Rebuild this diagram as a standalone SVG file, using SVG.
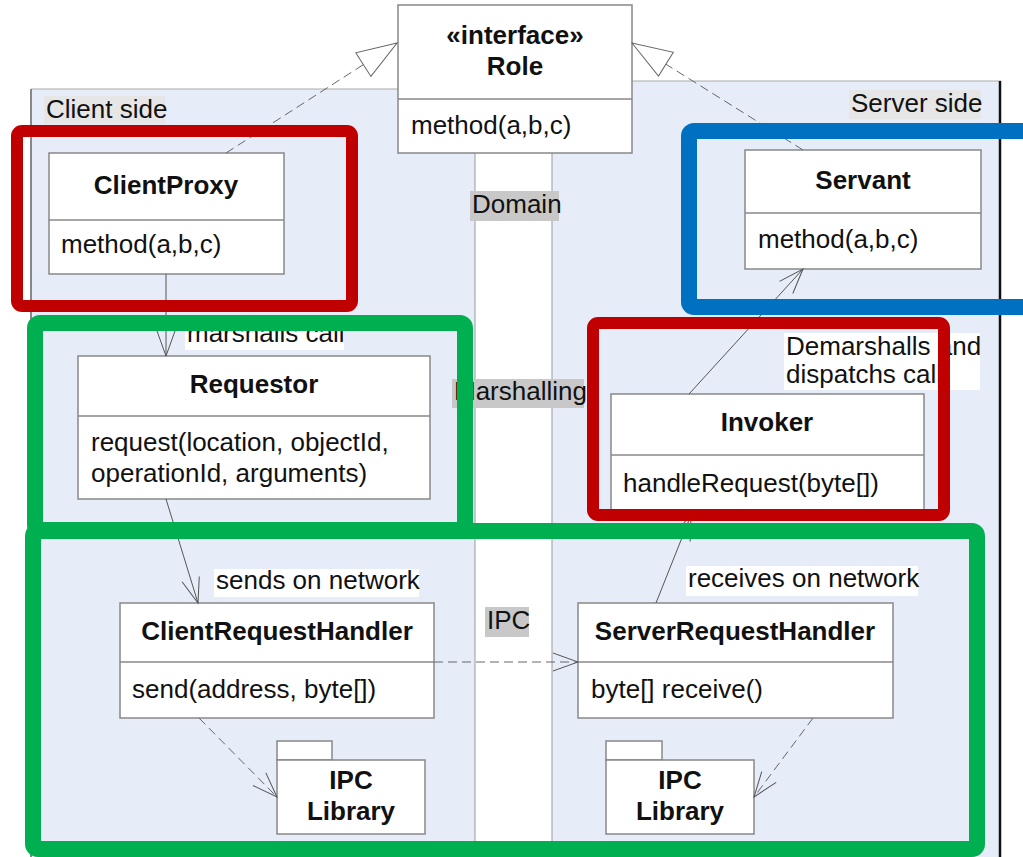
<svg xmlns="http://www.w3.org/2000/svg" width="1023" height="857" viewBox="0 0 1023 857">
  <style>
    text { font-family: "Liberation Sans", Arial, sans-serif; font-size: 26px; fill: #111; }
    .title { font-weight: bold; text-anchor: middle; }
    .box { fill: #fff; stroke: #888; stroke-width: 1.5; }
    .sep { stroke: #888; stroke-width: 1.5; }
    .panel { fill: #e6edf8; }
    .zone { fill: #c8c8c8; }
    .side { fill: #e6e6e6; }
    .lbl { fill: #fff; }
    .solid { fill: none; stroke: #555; stroke-width: 1; }
    .dash { fill: none; stroke: #666; stroke-width: 1; stroke-dasharray: 9 5; }
    .hl { fill: none; rx: 5; }
    .red { stroke: #c00000; stroke-width: 12; }
    .blue { stroke: #0070c0; stroke-width: 16; }
    .green { stroke: #00b050; stroke-width: 16; }
  </style>
  <defs>
    <marker id="open" markerUnits="userSpaceOnUse" viewBox="-30 -15 32 30" markerWidth="32" markerHeight="30" refX="0" refY="0" orient="auto">
      <path d="M-25,-9 L0,0 L-25,9" fill="none" stroke="#555" stroke-width="1"/>
    </marker>
    <marker id="realize" markerUnits="userSpaceOnUse" viewBox="-44 -18 46 36" markerWidth="46" markerHeight="36" refX="0" refY="0" orient="auto">
      <path d="M0,0 L-40,-14 L-40,14 Z" fill="#fff" stroke="#666" stroke-width="1"/>
    </marker>
  </defs>

  <!-- side panels and the layer strip -->
  <g id="panels">
    <rect class="panel" x="31" y="89" width="444" height="780"/>
    <rect class="panel" x="552" y="81" width="449" height="790"/>
    <rect x="475" y="153" width="77" height="710" fill="#fff"/>
    <line x1="31" y1="89" x2="398" y2="89" stroke="#aaa" stroke-width="1"/>
    <line x1="31" y1="89" x2="31" y2="857" stroke="#888" stroke-width="2"/>
    <line x1="632" y1="81" x2="1001" y2="81" stroke="#aaa" stroke-width="1"/>
    <line x1="1000" y1="81" x2="1000" y2="857" stroke="#111" stroke-width="2.5"/>
    <line x1="475" y1="153" x2="475" y2="857" stroke="#999" stroke-width="1"/>
    <line x1="552" y1="153" x2="552" y2="857" stroke="#999" stroke-width="1"/>
    <rect class="side" x="44" y="96" width="121" height="28"/>
    <text x="46" y="118">Client side</text>
    <rect class="side" x="849" y="90" width="132" height="29"/>
    <text x="851" y="112">Server side</text>
    <rect class="zone" x="470" y="191" width="89" height="30"/>
    <text x="472" y="213">Domain</text>
    <rect class="zone" x="452" y="379" width="132" height="29"/>
    <text x="454" y="400">Marshalling</text>
    <rect class="zone" x="485" y="607" width="44" height="30"/>
    <text x="487" y="629">IPC</text>
  </g>

  <!-- classes -->
  <g id="role">
    <rect class="box" x="398" y="5" width="234" height="148"/>
    <line class="sep" x1="398" y1="99" x2="632" y2="99"/>
    <text class="title" x="515" y="44">«interface»</text>
    <text class="title" x="515" y="75">Role</text>
    <text x="411" y="134">method(a,b,c)</text>
  </g>
  <g id="clientproxy">
    <rect class="box" x="49" y="153" width="235" height="121"/>
    <line class="sep" x1="49" y1="220" x2="284" y2="220"/>
    <text class="title" x="166" y="194">ClientProxy</text>
    <text x="61" y="253">method(a,b,c)</text>
  </g>
  <g id="servant">
    <rect class="box" x="745" y="150" width="236" height="119"/>
    <line class="sep" x1="745" y1="213" x2="981" y2="213"/>
    <text class="title" x="863" y="189">Servant</text>
    <text x="758" y="248">method(a,b,c)</text>
  </g>
  <g id="requestor">
    <rect class="box" x="78" y="356" width="352" height="143"/>
    <line class="sep" x1="78" y1="416" x2="430" y2="416"/>
    <text class="title" x="254" y="393">Requestor</text>
    <text x="91" y="451">request(location, objectId,</text>
    <text x="91" y="482">operationId, arguments)</text>
  </g>
  <g id="invoker">
    <rect class="box" x="611" y="394" width="313" height="121"/>
    <line class="sep" x1="611" y1="455" x2="924" y2="455"/>
    <text class="title" x="767" y="431">Invoker</text>
    <text x="623" y="492">handleRequest(byte[])</text>
  </g>
  <g id="clientrequesthandler">
    <rect class="box" x="120" y="603" width="314" height="115"/>
    <line class="sep" x1="120" y1="662" x2="434" y2="662"/>
    <text class="title" x="277" y="640">ClientRequestHandler</text>
    <text x="132" y="698">send(address, byte[])</text>
  </g>
  <g id="serverrequesthandler">
    <rect class="box" x="578" y="603" width="315" height="115"/>
    <line class="sep" x1="578" y1="662" x2="893" y2="662"/>
    <text class="title" x="735" y="640">ServerRequestHandler</text>
    <text x="591" y="698">byte[] receive()</text>
  </g>
  <g id="ipc-client">
    <rect class="box" x="277" y="741" width="55" height="19"/>
    <rect class="box" x="277" y="760" width="148" height="74"/>
    <text class="title" x="351" y="789">IPC</text>
    <text class="title" x="351" y="820">Library</text>
  </g>
  <g id="ipc-server">
    <rect class="box" x="606" y="741" width="56" height="19"/>
    <rect class="box" x="606" y="760" width="148" height="74"/>
    <text class="title" x="680" y="789">IPC</text>
    <text class="title" x="680" y="820">Library</text>
  </g>

  <!-- connectors -->
  <g id="connectors">
    <line class="dash" x1="226" y1="153" x2="397" y2="43" marker-end="url(#realize)"/>
    <line class="dash" x1="803" y1="150" x2="632" y2="43" marker-end="url(#realize)"/>
    <line class="solid" x1="166" y1="274" x2="166" y2="356" marker-end="url(#open)"/>
    <line class="solid" x1="166" y1="499" x2="198" y2="603" marker-end="url(#open)"/>
    <line class="solid" x1="656" y1="603" x2="691" y2="515" marker-end="url(#open)"/>
    <line class="solid" x1="689" y1="394" x2="803" y2="269" marker-end="url(#open)"/>
    <line class="dash" x1="434" y1="662" x2="578" y2="662" marker-end="url(#open)"/>
    <line class="dash" x1="199" y1="718" x2="277" y2="797" marker-end="url(#open)"/>
    <line class="dash" x1="813" y1="718" x2="754" y2="797" marker-end="url(#open)"/>
    <rect class="lbl" x="185" y="322" width="159" height="28"/>
    <text x="187" y="342">marshalls call</text>
    <rect class="lbl" x="214" y="569" width="205" height="28"/>
    <text x="216" y="589">sends on network</text>
    <rect class="lbl" x="686" y="566" width="232" height="30"/>
    <text x="688" y="587">receives on network</text>
    <rect class="lbl" x="784" y="333" width="196" height="57"/>
    <text x="786" y="355">Demarshalls and</text>
    <text x="786" y="383">dispatchs call</text>
  </g>

  <!-- highlight frames -->
  <g id="highlights">
    <rect class="hl red" x="17" y="131" width="335" height="175"/>
    <rect class="hl blue" x="689" y="131" width="345" height="176"/>
    <rect class="hl red" x="593" y="323" width="351" height="192"/>
    <rect class="hl green" x="35" y="323" width="430" height="207"/>
    <rect class="hl green" x="33" y="531" width="944" height="318"/>
  </g>
</svg>
